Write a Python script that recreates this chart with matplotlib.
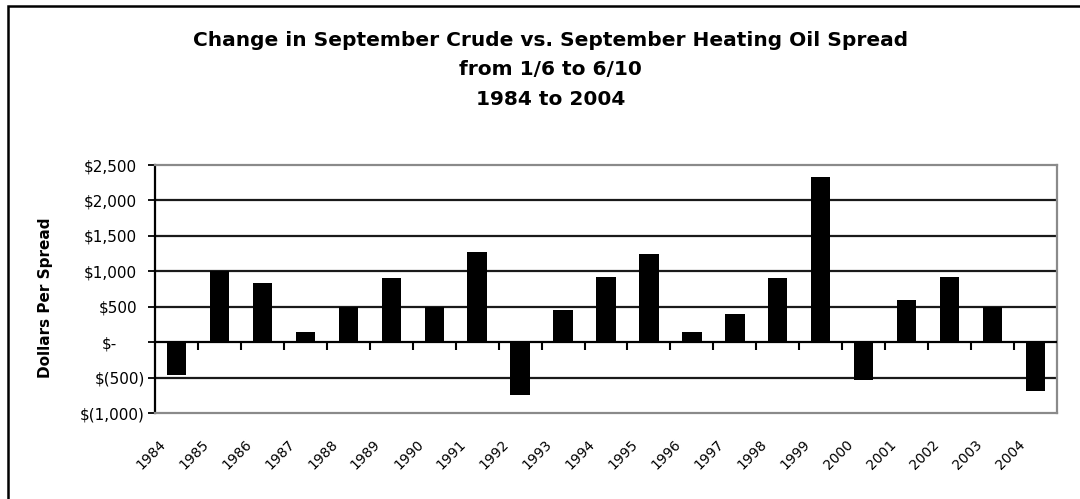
import matplotlib
matplotlib.use("Agg")
import matplotlib.pyplot as plt
import matplotlib.transforms as mtransforms
import numpy as np
from matplotlib.patches import Rectangle

plt.rcParams['font.family'] = ['DejaVu Sans']

# data
years = [str(y) for y in range(1984, 2005)]
spread_change = [-470, 1000, 830, 150, 500, 900, 500, 1270, -750, 450,
                 920, 1250, 150, 400, 900, 2330, -530, 600, 920, 500, -690]
y_ticks = [-1000, -500, 0, 500, 1000, 1500, 2000, 2500]
y_labels = ['$(1,000)', '$(500)', '$-', '$500', '$1,000', '$1,500',
            '$2,000', '$2,500']

fig = plt.figure(figsize=(10.8, 4.99), dpi=100)

# outer chart border (right/bottom fall outside the image)
fig.patches.append(Rectangle((0.0075, -0.1), 1.2, 1.088, transform=fig.transFigure,
                             fill=False, edgecolor='black', linewidth=1.8))

ax = fig.add_axes([0.1435, 0.1723, 0.8352, 0.497])
x = np.arange(len(years))
ax.bar(x, spread_change, width=0.45, color='black', zorder=3)

ax.set_xlim(-0.5, len(years) - 0.5)
ax.set_ylim(-1000, 2500)
ax.set_yticks(y_ticks)
ax.tick_params(axis='y', length=5, width=1.3, direction='out', labelleft=False)
ax.set_xticks(x)
ax.tick_params(axis='x', length=0, labelbottom=False)

# y labels, accounting style: positives leave room for ")", "$-" sits further left
ytrans = mtransforms.blended_transform_factory(ax.transAxes, ax.transData)
for v, t in zip(y_ticks, y_labels):
    dx = -10 if t.endswith(')') else (-38 if t == '$-' else -18)
    off = mtransforms.ScaledTranslation(dx / 100, 0, fig.dpi_scale_trans)
    ax.text(0, v, t, transform=ytrans + off, ha='right', va='center_baseline',
            fontsize=11)

# year labels below the plot, slanted
xtrans = mtransforms.blended_transform_factory(ax.transData, ax.transAxes)
off = mtransforms.ScaledTranslation(-0.18, -0.24, fig.dpi_scale_trans)
for xi, yr in zip(x, years):
    ax.text(xi, 0, yr, transform=xtrans + off, ha='right', va='top',
            rotation=45, rotation_mode='anchor', fontsize=10)

for v in y_ticks[1:-1]:
    if v != 0:
        ax.axhline(v, color='#1a1a1a', linewidth=1.6, zorder=1)
ax.axhline(0, color='black', linewidth=1.6, zorder=4)

for side in ['top', 'right', 'bottom']:
    ax.spines[side].set_color('#8a8a8a')
    ax.spines[side].set_linewidth(1.6)
ax.spines['left'].set_color('black')
ax.spines['left'].set_linewidth(1.6)

# category tick marks on the zero line
zero_frac = (0 - ax.get_ylim()[0]) / (ax.get_ylim()[1] - ax.get_ylim()[0])
sec = ax.secondary_xaxis(zero_frac)
sec.set_xticks(x[:-1] + 0.5)
sec.set_xticklabels([])
sec.tick_params(axis='x', direction='out', length=6, width=1.5, color='black')
sec.spines['bottom'].set_visible(False)

ax.set_ylabel('Dollars Per Spread', fontsize=11, fontweight='bold')
ax.yaxis.set_label_coords(-0.113, 0.464)

fig.text(0.51, 0.86, 'Change in September Crude vs. September Heating Oil Spread\n'
         'from 1/6 to 6/10\n1984 to 2004', ha='center', va='center',
         fontsize=14.5, fontweight='bold', linespacing=1.68)

fig.savefig('out.png', dpi=100)
